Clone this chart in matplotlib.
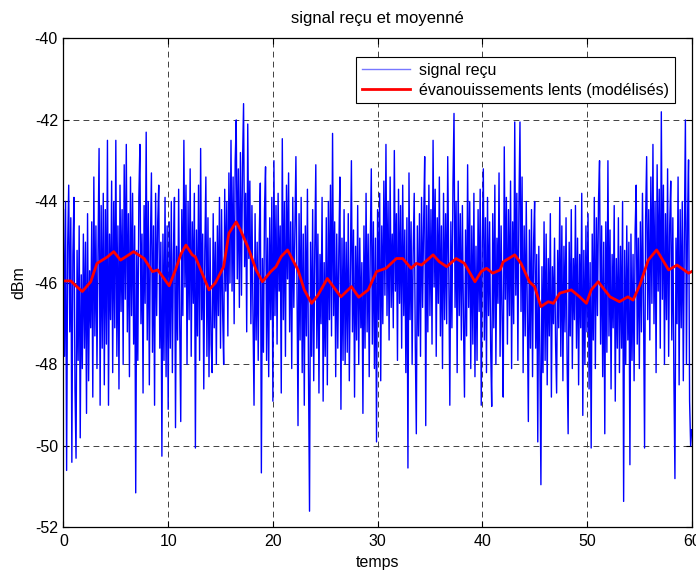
import numpy as np
import matplotlib
matplotlib.use("Agg")
import matplotlib.pyplot as plt

plt.rcParams['font.family'] = ['Liberation Sans', 'DejaVu Sans']
plt.rcParams['axes.unicode_minus'] = False

# received signal (dBm), one row per second, sampled every 0.1 s
signal_recu = [
    -44.2, -47.8, -44.0, -50.6, -45.1, -43.6, -47.2, -44.4, -50.4, -45.3,
    -43.9, -48.6, -50.3, -45.2, -47.9, -44.6, -49.8, -45.8, -48.1, -44.8,
    -47.6, -45.0, -49.2, -44.3, -48.4, -45.7, -47.1, -44.5, -48.8, -43.4,
    -47.3, -44.6, -48.1, -45.2, -42.7, -49.0, -44.1, -47.6, -43.8, -48.5,
    -44.2, -47.5, -42.5, -49.0, -44.8, -46.9, -43.5, -48.2, -44.0, -47.1,
    -42.5, -47.8, -44.6, -48.6, -43.6, -46.7, -44.2, -48.0, -43.1, -46.4,
    -42.6, -47.2, -44.3, -48.3, -43.4, -46.8, -43.8, -47.5, -44.6, -51.15,
    -45.2, -47.9, -43.9, -42.6, -47.0, -44.8, -48.7, -44.1, -46.5, -42.3,
    -47.4, -44.0, -48.5, -45.1, -43.3, -47.7, -44.6, -49.0, -43.8, -46.8,
    -44.5, -43.6, -47.6, -45.0, -50.25, -44.8, -47.9, -43.9, -48.3, -44.6,
    -49.1, -44.5, -47.6, -44.0, -48.2, -45.3, -43.9, -49.55, -45.1, -47.4,
    -43.7, -47.0, -49.4, -44.2, -46.8, -42.5, -46.1, -43.6, -48.0, -44.0,
    -46.9, -43.2, -47.8, -44.5, -46.5, -43.8, -50.05, -44.7, -47.3, -43.6,
    -47.9, -42.7, -46.9, -44.8, -48.6, -45.2, -43.4, -47.8, -44.4, -48.3,
    -44.9, -47.5, -48.2, -44.3, -47.1, -45.0, -48.0, -44.6, -46.8, -43.9,
    -47.6, -44.2, -46.7, -48.0, -43.7, -46.2, -44.0, -47.3, -43.3, -46.0,
    -42.5, -46.2, -43.4, -47.0, -43.0, -42.0, -45.9, -43.2, -46.6, -42.8,
    -46.3, -43.1, -41.6, -45.6, -43.8, -47.2, -42.1, -45.4, -43.5, -47.0,
    -44.1, -46.8, -49.0, -44.3, -47.4, -45.0, -47.9, -44.8, -43.55, -50.66,
    -45.4, -47.7, -44.2, -43.15, -47.9, -44.9, -48.3, -44.4, -46.9, -43.9,
    -48.9, -43.0, -46.8, -44.1, -47.5, -43.8, -46.2, -44.6, -48.7, -42.46,
    -46.9, -44.0, -47.8, -43.6, -45.9, -43.3, -47.2, -44.5, -48.1, -43.9,
    -46.6, -44.7, -42.9, -46.0, -49.5, -44.3, -47.4, -43.9, -48.2, -44.8,
    -49.0, -44.6, -47.3, -43.7, -48.1, -51.6, -45.0, -47.8, -44.2, -48.4,
    -45.2, -43.1, -47.6, -44.8, -48.7, -45.3, -47.0, -43.9, -48.9, -45.5,
    -47.8, -44.4, -48.5, -44.0, -46.9, -43.6, -47.3, -42.33, -46.8, -44.5,
    -48.3, -44.8, -47.6, -45.2, -43.4, -49.1, -44.9, -47.9, -44.2, -48.0,
    -45.0, -47.7, -44.3, -48.4, -45.6, -43.0, -47.2, -44.7, -48.8, -45.1,
    -47.4, -44.1, -48.0, -44.9, -47.1, -45.5, -49.2, -44.6, -47.6, -43.8,
    -47.2, -44.8, -48.3, -45.1, -43.2, -47.5, -44.5, -48.1, -44.9, -49.9,
    -44.2, -46.9, -43.8, -48.4, -44.6, -47.0, -43.5, -46.3, -42.6, -46.8,
    -44.0, -47.4, -43.4, -46.6, -44.8, -47.1, -42.75, -46.2, -44.3, -47.9,
    -43.7, -46.5, -44.1, -47.6, -43.6, -46.8, -44.7, -48.2, -44.4, -50.54,
    -43.3, -46.9, -44.5, -48.0, -45.2, -43.8, -47.5, -49.7, -44.6, -47.3,
    -44.3, -47.8, -43.9, -46.6, -44.5, -42.9, -49.5, -44.1, -47.2, -43.6,
    -46.8, -44.2, -47.5, -42.5, -46.1, -43.7, -47.8, -44.4, -46.5, -43.4,
    -47.3, -44.6, -48.1, -43.8, -46.9, -44.3, -47.0, -42.9, -45.7, -49.0,
    -44.5, -47.1, -43.6, -41.84, -46.6, -44.0, -48.2, -43.5, -46.8, -44.3,
    -47.4, -44.1, -46.9, -48.8, -44.7, -47.3, -43.1, -46.6, -44.0, -48.1,
    -44.6, -47.5, -43.8, -48.3, -45.1, -47.9, -44.2, -46.7, -43.7, -49.0,
    -45.0, -43.2, -47.4, -44.4, -48.2, -43.9, -46.8, -44.5, -47.6, -49.03,
    -44.3, -47.1, -43.6, -48.0, -44.9, -46.5, -43.3, -47.8, -44.6, -46.9,
    -48.8, -42.66, -46.4, -43.9, -47.5, -44.2, -46.8, -43.5, -48.1, -44.5,
    -47.0, -42.05, -46.3, -43.8, -47.9, -44.1, -42.05, -46.7, -43.4, -48.2,
    -44.6, -47.3, -44.0, -46.8, -49.4, -44.7, -47.6, -44.2, -48.3, -45.0,
    -44.0, -47.6, -45.3, -49.9, -45.1, -47.8, -50.95, -45.6, -48.2, -44.5,
    -47.9, -44.8, -48.5, -45.4, -47.3, -44.3, -48.8, -45.6, -47.0, -44.9,
    -47.5, -48.7, -45.2, -47.1, -43.9, -47.8, -44.6, -48.4, -45.1, -47.2,
    -44.4, -47.9, -49.7, -45.0, -47.3, -44.2, -48.1, -45.4, -46.9, -44.1,
    -47.6, -44.9, -48.5, -45.3, -47.1, -43.8, -49.25, -45.2, -48.0, -44.6,
    -47.2, -44.3, -48.6, -45.5, -50.05, -44.8, -47.4, -43.9, -48.1, -44.4,
    -46.8, -44.0, -43.0, -47.5, -44.6, -48.3, -45.0, -49.7, -44.5, -47.7,
    -43.0, -47.3, -44.7, -48.6, -45.3, -47.1, -44.1, -48.9, -45.4, -47.6,
    -44.4, -48.2, -45.1, -47.6, -44.0, -51.36, -45.2, -48.0, -44.6, -47.4,
    -45.0, -50.46, -44.8, -47.9, -45.3, -48.4, -44.7, -43.6, -47.5, -44.9,
    -48.1, -44.5, -47.2, -43.8, -46.6, -50.05, -44.4, -42.9, -46.9, -44.2,
    -47.4, -43.4, -46.5, -42.6, -47.0, -44.0, -48.2, -43.1, -46.2, -43.7,
    -47.6, -41.8, -46.4, -43.6, -48.0, -44.3, -46.9, -43.2, -47.8, -44.6,
    -43.5, -47.4, -44.4, -48.3, -50.8, -44.9, -47.0, -43.4, -48.5, -44.2,
    -47.1, -44.0, -48.4, -44.8, -42.0, -48.0, -44.5, -42.98, -48.9, -50.0,
    -49.6,
]
pas = 0.1  # sampling step (s)

# slow fading (modelled)
t_lent = [0.0, 0.7, 1.1, 1.8, 2.6, 3.2, 4.2, 4.8, 5.45, 6.0, 6.7, 7.7, 8.5, 9.0,
          9.6, 10.1, 10.7, 11.2, 11.7, 12.3, 12.6, 13.3, 13.9, 14.5, 15.3, 15.8,
          16.5, 16.9, 17.6, 18.4, 19.0, 19.8, 20.3, 20.8, 21.4, 22.4, 23.0, 23.7,
          24.3, 25.2, 25.8, 26.5, 27.5, 28.2, 29.1, 29.9, 30.8, 31.8, 32.4, 33.2,
          33.7, 34.2, 35.3, 35.9, 36.6, 37.5, 38.3, 39.3, 39.9, 40.4, 41.0, 41.7,
          42.0, 43.1, 43.7, 44.5, 45.0, 45.6, 46.3, 46.8, 47.4, 48.5, 49.3, 49.95,
          50.4, 51.07, 52.2, 53.1, 53.9, 54.4, 55.05, 55.85, 56.65, 57.8, 58.6,
          59.7, 60.0]
lent = [-45.95, -45.95, -46.05, -46.21, -45.97, -45.52, -45.36, -45.23, -45.44,
        -45.35, -45.23, -45.4, -45.72, -45.68, -45.89, -46.07, -45.68, -45.3,
        -45.07, -45.31, -45.36, -45.8, -46.17, -46.0, -45.6, -44.78, -44.5,
        -44.7, -45.11, -45.68, -45.97, -45.72, -45.6, -45.35, -45.19, -45.68,
        -46.17, -46.5, -46.3, -45.89, -46.1, -46.34, -46.09, -46.35, -46.17,
        -45.72, -45.64, -45.4, -45.4, -45.64, -45.52, -45.56, -45.31, -45.48,
        -45.6, -45.4, -45.52, -45.97, -45.72, -45.64, -45.76, -45.68, -45.48,
        -45.31, -45.52, -45.97, -46.09, -46.58, -46.46, -46.5, -46.25, -46.17,
        -46.34, -46.5, -46.17, -45.97, -46.34, -46.46, -46.34, -46.42, -46.05,
        -45.44, -45.19, -45.68, -45.56, -45.76, -45.72]

x_ticks = [0, 10, 20, 30, 40, 50, 60]
y_ticks = [-52, -50, -48, -46, -44, -42, -40]

t = np.arange(len(signal_recu)) * pas

fig = plt.figure(figsize=(6.96, 5.72), dpi=100)
ax = fig.add_axes([0.0912, 0.0778, 0.9026, 0.855])

ax.plot(t, signal_recu, color='#0000ff', lw=1.0, label='signal reçu')
ax.plot(t_lent, lent, color='#ff0000', lw=2.0, label='évanouissements lents (modélisés)')

ax.set_xlim(0, 60)
ax.set_ylim(-52, -40)
ax.set_xticks(x_ticks)
ax.set_yticks(y_ticks)
ax.tick_params(direction='in', top=True, right=True, length=4, labelsize=11.5,
               width=0.8, pad=4)
ax.tick_params(axis='x', pad=5)
ax.grid(True, color='#222222', ls=(0, (7, 5)), lw=0.6)
for s in ax.spines.values():
    s.set_linewidth(0.9)

ax.set_title('signal reçu et moyenné', fontsize=12, pad=11)
ax.set_xlabel('temps', fontsize=11.5, labelpad=4)
ax.set_ylabel('dBm', fontsize=11.5, labelpad=6)

leg = ax.legend(loc='upper right', bbox_to_anchor=(0.986, 0.978), fontsize=11.5,
                fancybox=False, framealpha=1, edgecolor='black',
                handlelength=3.0, handletextpad=0.6, borderpad=0.35,
                labelspacing=0.3)
leg.get_frame().set_linewidth(0.8)
leg.legend_handles[0].set_color('#7777ff')

fig.savefig('out.png', dpi=100)
